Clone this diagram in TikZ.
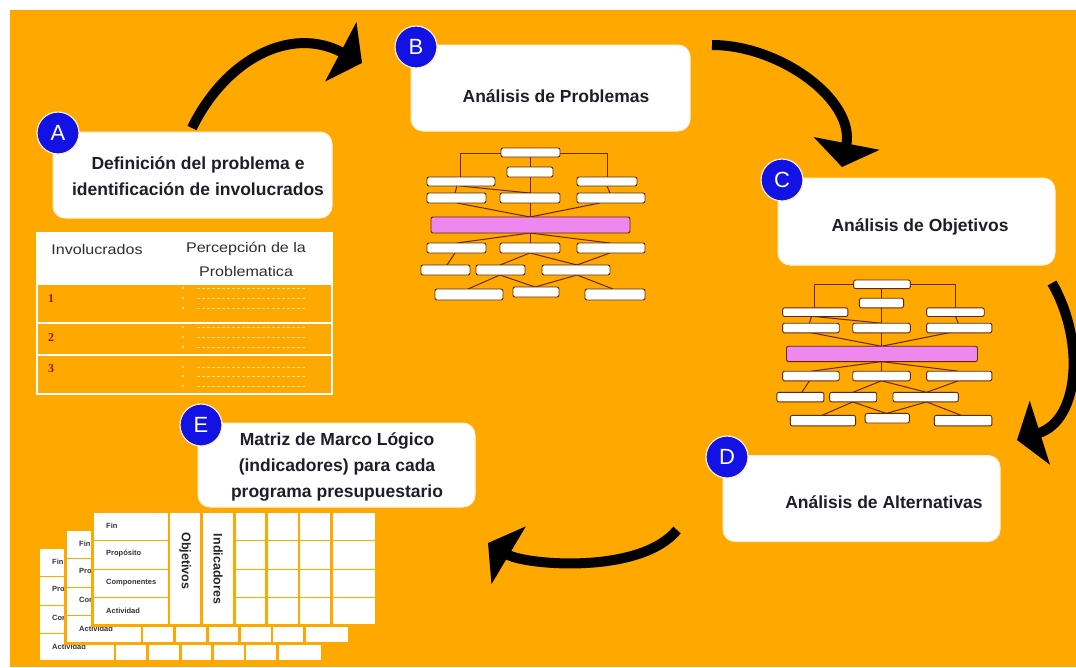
\documentclass[tikz,border=0pt]{standalone}
\usepackage{fontspec}
\setmainfont{Liberation Sans}
\newfontfamily\encabezado{Liberation Sans}[FakeStretch=1.15]
\newfontfamily\serifa{Liberation Serif}
\usetikzlibrary{arrows.meta}

\definecolor{naranja}{RGB}{255,168,0}
\definecolor{azul}{RGB}{18,18,228}
\definecolor{marron}{RGB}{100,40,5}
\definecolor{rosa}{RGB}{238,136,238}
\definecolor{tinta}{RGB}{30,30,42}
\definecolor{punteado}{RGB}{255,226,140}
\definecolor{numrojo}{RGB}{140,30,0}

\tikzset{
  caja/.style={fill=white, draw=white!85!naranja, line width=1pt, rounded corners=12pt},
  titulo/.style={font=\bfseries\fontsize{17.5}{26}\selectfont, text=tinta, align=center},
  letra/.style={circle, fill=azul, draw=white!80!naranja, line width=1.2pt, minimum size=42pt, inner sep=0pt, text=white, font=\fontsize{22}{22}\selectfont},
  flecha/.style={line width=10pt, black, -{Triangle[length=24pt,width=66pt]}},
  encab/.style={font=\encabezado\fontsize{14}{16}\selectfont, text=black!82},
  numero/.style={font=\serifa\bfseries\fontsize{12}{12}\selectfont, text=numrojo},
  hoja/.style={fill=white, draw=marron, line width=0.9pt, rounded corners=2pt},
  rama/.style={draw=marron, line width=1pt},
  celda/.style={fill=white},
  mini/.style={anchor=west, inner sep=0pt, font=\bfseries\fontsize{7.5}{8}\selectfont, text=black!80},
  vertical/.style={rotate=-90, inner sep=0pt, font=\bfseries\fontsize{12.5}{13}\selectfont, text=black!85},
  arbol/.pic={
    % ramas
    \draw[rama] (-70,29) -- (-70,5) -- (77,5) -- (77,29);
    \draw[rama] (0,9) -- (0,69);
    \draw[rama] (-70,38) -- (0,45);
    \draw[rama] (-73,38) -- (-75,45);
    \draw[rama] (77,38) -- (80,45);
    \draw[rama] (-73,55) -- (0,69) -- (70,55);
    \draw[rama] (-73,95) -- (0,85) -- (80,95);
    \draw[rama] (0,85) -- (0,95);
    \draw[rama] (-75,105) -- (-83,117);
    \draw[rama] (-30,117) -- (0,105) -- (47,117);
    \draw[rama] (80,105) -- (47,117);
    \draw[rama] (-62,141) -- (-30,127) -- (5,139) -- (47,127) -- (83,141);
    % cajas
    \foreach \xa/\ya/\xb/\yb in {-29/0/30/9, -23/19/23/29, -103/29/-35/38, 47/29/107/38,
        -103/45/-44/55, -30/45/30/55, 47/45/115/55,
        -103/95/-44/105, -30/95/30/105, 47/95/115/105,
        -109/117/-60/127, -54/117/-5/127, 12/117/80/127,
        -95/141/-27/152, -17/139/29/149, 55/141/115/152}
      \draw[hoja] (\xa,\ya) rectangle (\xb,\yb);
    \draw[hoja, fill=rosa] (-99,69) rectangle (100,85);
  },
  matriz/.pic={
    \fill[naranja] (-3,-3) rectangle (284,114);
    \foreach \ya/\yb in {0/27, 28/56, 57/84, 85/111} {
      \fill[celda] (0,\ya) rectangle (74,\yb);
      \foreach \xa/\xb in {142/171, 174/204, 206/236, 239/281}
        \fill[celda] (\xa,\ya) rectangle (\xb,\yb);
    }
    \fill[celda] (76,0) rectangle (106,111);
    \fill[celda] (109,0) rectangle (139,111);
    \node[mini] (-fin) at (12,13) {Fin};
    \node[mini] (-prop) at (12,41) {Propósito};
    \node[mini] (-comp) at (12,70) {Componentes};
    \node[mini] (-act) at (12,98) {Actividad};
    \node[vertical] (-obj) at (91,48) {Objetivos};
    \node[vertical] (-ind) at (124,56) {Indicadores};
  }
}

\begin{document}
\begin{tikzpicture}[x=1pt,y=-1pt]
    \useasboundingbox (0,0) rectangle (1076,667);

    % fondo
    \fill[naranja] (10,10) rectangle (1076,667);

    % tabla de involucrados
    \fill[white] (37,233) rectangle (332,284);
    \draw[white, line width=1.5pt] (37,233) rectangle (332,394);
    \draw[white, line width=1.5pt] (37,284) -- (332,284) (37,323) -- (332,323) (37,355) -- (332,355);
    \node[encab]  (inv) at  (97,249) {Involucrados};
    \node[encab] (perc) at (246,249) {Percepción de la};
    \node[encab] (prob) at (246,271) {Problematica};
    \node[numero] (num1) at (51,299) {1};
    \node[numero] (num2) at (51,338) {2};
    \node[numero] (num3) at (51,369) {3};
    \foreach \y in {288,298,308,327,337,347,367,376,386} {
        \fill[punteado] (183,\y) circle (1.3);
        \draw[punteado, densely dashed, line width=0.6pt] (197,\y) -- (305,\y);
    }

    % arboles
    \pic (arbol_b) at (530,148) {arbol};
    \pic[scale=0.96] (arbol_c) at (881.5,280) {arbol};

    % matriz de marco logico
    \pic (capa_a) at (40,549) {matriz};
    \pic (capa_b) at (67,531) {matriz};
    \pic (capa_c) at (94,513) {matriz};

    % cajas
    \node[caja, minimum width=279pt, minimum height=86pt] (caja_a) at (192.5,175) {};
    \node[caja, minimum width=279pt, minimum height=86pt] (caja_b) at (550.5,88) {};
    \node[caja, minimum width=277pt, minimum height=87pt] (caja_c) at (916.5,221.5) {};
    \node[caja, minimum width=277pt, minimum height=86pt] (caja_d) at (861.5,498.5) {};
    \node[caja, minimum width=277pt, minimum height=84pt] (caja_e) at (336.5,465) {};

    % titulos
    \node[titulo] (txt_a) at (198,176) {Definición del problema e\\identificación de involucrados};
    \node[titulo] (txt_b) at (556,96) {Análisis de Problemas};
    \node[titulo] (txt_c) at (920,227) {Análisis de Objetivos};
    \node[titulo] (txt_d) at (884,502) {Análisis de Alternativas};
    \node[titulo] (txt_e) at (337,467) {Matriz de Marco Lógico\\(indicadores) para cada\\programa presupuestario};

    % letras
    \node[letra] (let_a) at  (58,133) {A};
    \node[letra] (let_b) at  (416,47) {B};
    \node[letra] (let_c) at (782,180) {C};
    \node[letra] (let_d) at (727,457) {D};
    \node[letra] (let_e) at (201,425) {E};

    % flechas
    \coordinate (ini_1) at (192,128);
    \coordinate (fin_1) at (362,63);
    \coordinate (ini_2) at (712,45);
    \coordinate (fin_2) at (842,167);
    \coordinate (ini_3) at (1052,283);
    \coordinate (fin_3) at (1017,440);
    \coordinate (ini_4) at (677,530);
    \coordinate (fin_4) at (488,543);
    \draw[flecha] (ini_1) .. controls (225,60) and (290,25) .. (fin_1);
    \draw[flecha] (ini_2) .. controls (780,45) and (855,100) .. (fin_2);
    \draw[flecha] (ini_3) .. controls (1085,340) and (1080,420) .. (fin_3);
    \draw[flecha] (ini_4) .. controls (640,575) and (525,565) .. (fin_4);

\end{tikzpicture}
\end{document}
